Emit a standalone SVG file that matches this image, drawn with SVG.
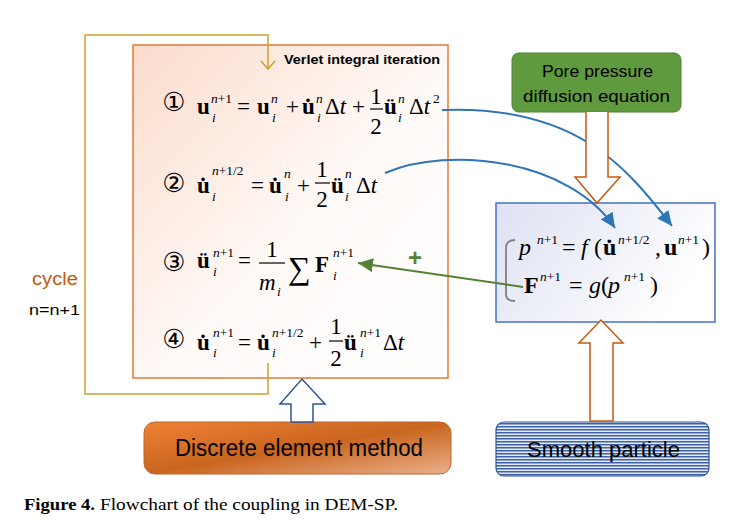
<svg xmlns="http://www.w3.org/2000/svg" width="745" height="527" viewBox="0 0 745 527">
<defs>
<style>
.m{font-family:"Liberation Serif","Times New Roman",serif;font-size:23px;fill:#000}
.b{font-weight:bold}
.it{font-style:italic}
.s{font-size:13.5px}
.l{font-size:24px}
.sig{font-size:32px}
.cd{font-family:"DejaVu Sans",sans-serif;font-size:26px;fill:#000;text-anchor:middle}
.sans{font-family:"Liberation Sans",Arial,sans-serif;fill:#000}
.bar{stroke:#000;stroke-width:1.2}
.blue{fill:none;stroke:#2e75b6;stroke-width:2}
</style>
<linearGradient id="gOrangeBox" x1="0" y1="0" x2="1" y2="1">
<stop offset="0" stop-color="#fbdccb"/><stop offset="0.55" stop-color="#fffaf8"/><stop offset="1" stop-color="#ffffff"/>
</linearGradient>
<linearGradient id="gSP" x1="0" y1="0" x2="1" y2="0.4">
<stop offset="0" stop-color="#dde1f2"/><stop offset="1" stop-color="#ffffff"/>
</linearGradient>
<linearGradient id="gDEM" x1="0" y1="0" x2="1" y2="1">
<stop offset="0" stop-color="#ef8236"/><stop offset="0.5" stop-color="#c9651f"/><stop offset="1" stop-color="#eab08a"/>
</linearGradient>
<pattern id="stripes" width="6" height="3" patternUnits="userSpaceOnUse">
<rect width="6" height="3" fill="#e4e9f6"/><rect width="6" height="1.5" fill="#3e62ad"/>
</pattern>
<marker id="ahBlue" markerUnits="userSpaceOnUse" markerWidth="16" markerHeight="14" refX="15" refY="7" orient="auto">
<path d="M0,0 L15,7 L0,14 z" fill="#2e75b6"/>
</marker>
<marker id="ahGreen" markerUnits="userSpaceOnUse" markerWidth="16" markerHeight="14" refX="15" refY="7" orient="auto">
<path d="M0,0 L15,7 L0,14 z" fill="#548235"/>
</marker>
</defs>
<rect width="745" height="527" fill="#ffffff"/>

<g id="verlet-box">
<rect x="133" y="45" width="315" height="333" fill="url(#gOrangeBox)" stroke="#e07b39" stroke-width="1.5"/>
<text class="sans" x="284" y="64" font-size="13.5" font-weight="bold" textLength="156" lengthAdjust="spacingAndGlyphs">Verlet integral iteration</text>
</g>

<g id="eq1">
<text class="cd" x="174" y="111">①</text>
<text class="m b" x="197" y="114">u</text>
<text class="m s" x="211" y="103"><tspan class="it">n</tspan>+1</text>
<text class="m s it" x="212" y="122">i</text>
<text class="m" x="237" y="114">=</text>
<text class="m b" x="257" y="114">u</text>
<text class="m s it" x="271" y="103">n</text>
<text class="m s it" x="272" y="122">i</text>
<text class="m" x="286" y="114">+</text>
<text class="m b" x="302" y="114">u̇</text>
<text class="m s it" x="316" y="103">n</text>
<text class="m s it" x="317" y="122">i</text>
<text class="m" x="325" y="114">Δ<tspan class="it">t</tspan></text>
<text class="m" x="352" y="114">+</text>
<text class="m" x="376" y="104" text-anchor="middle">1</text>
<line class="bar" x1="370" y1="109" x2="383" y2="109"/>
<text class="m" x="376" y="134" text-anchor="middle">2</text>
<text class="m b" x="384" y="114">ü</text>
<text class="m s it" x="398" y="103">n</text>
<text class="m s it" x="398" y="122">i</text>
<text class="m" x="409" y="114">Δ<tspan class="it">t</tspan></text>
<text class="m s" x="433" y="103">2</text>
</g>

<g id="eq2">
<text class="cd" x="174" y="192">②</text>
<text class="m b" x="197" y="193">u̇</text>
<text class="m s" x="212" y="175"><tspan class="it">n</tspan>+1/2</text>
<text class="m s it" x="212" y="201">i</text>
<text class="m" x="251" y="193">=</text>
<text class="m b" x="269" y="193">u̇</text>
<text class="m s it" x="284" y="178">n</text>
<text class="m s it" x="285" y="201">i</text>
<text class="m" x="297" y="193">+</text>
<text class="m" x="322" y="177" text-anchor="middle">1</text>
<line class="bar" x1="315" y1="183" x2="330" y2="183"/>
<text class="m" x="322" y="207" text-anchor="middle">2</text>
<text class="m b" x="331" y="193">ü</text>
<text class="m s it" x="345" y="178">n</text>
<text class="m s it" x="345" y="201">i</text>
<text class="m" x="356" y="193">Δ<tspan class="it">t</tspan></text>
</g>

<g id="eq3">
<text class="cd" x="174" y="271">③</text>
<text class="m b" x="197" y="268">ü</text>
<text class="m s" x="213" y="257"><tspan class="it">n</tspan>+1</text>
<text class="m s it" x="213" y="276">i</text>
<text class="m" x="238" y="268">=</text>
<text class="m" x="272" y="257" text-anchor="middle">1</text>
<line class="bar" x1="259" y1="263" x2="285" y2="263"/>
<text class="m it" x="259" y="290">m</text>
<text class="m s it" x="277" y="296">i</text>
<text class="m sig" x="288" y="279">∑</text>
<text class="m b" x="315" y="272">F</text>
<text class="m s" x="333" y="257"><tspan class="it">n</tspan>+1</text>
<text class="m s it" x="333" y="280">i</text>
</g>

<g id="eq4">
<text class="cd" x="174" y="348">④</text>
<text class="m b" x="197" y="350">u̇</text>
<text class="m s" x="213" y="337"><tspan class="it">n</tspan>+1</text>
<text class="m s it" x="213" y="357">i</text>
<text class="m" x="238" y="350">=</text>
<text class="m b" x="257" y="350">u̇</text>
<text class="m s" x="272" y="337"><tspan class="it">n</tspan>+1/2</text>
<text class="m s it" x="272" y="357">i</text>
<text class="m" x="309" y="350">+</text>
<text class="m" x="336" y="334" text-anchor="middle">1</text>
<line class="bar" x1="329" y1="341" x2="343" y2="341"/>
<text class="m" x="336" y="366" text-anchor="middle">2</text>
<text class="m b" x="344" y="350">ü</text>
<text class="m s" x="360" y="337"><tspan class="it">n</tspan>+1</text>
<text class="m s it" x="360" y="357">i</text>
<text class="m" x="383" y="350">Δ<tspan class="it">t</tspan></text>
</g>

<g id="cycle-label">
<text x="32" y="285" font-family="Liberation Sans, Arial, sans-serif" font-size="18" fill="#c55a11" textLength="46" lengthAdjust="spacingAndGlyphs">cycle</text>
<text class="sans" x="29" y="315" font-size="15" textLength="51" lengthAdjust="spacingAndGlyphs">n=n+1</text>
</g>

<g id="pore-pressure">
<rect x="512" y="53" width="169" height="59" rx="7" fill="#609a3e" stroke="#4e7f32" stroke-width="1"/>
<text class="sans" x="542" y="77" font-size="16.5" textLength="111" lengthAdjust="spacingAndGlyphs">Pore pressure</text>
<text class="sans" x="523" y="102" font-size="16.5" textLength="147" lengthAdjust="spacingAndGlyphs">diffusion equation</text>
</g>

<g id="sp-equations">
<rect x="496" y="203" width="219" height="119" fill="url(#gSP)" stroke="#4472c4" stroke-width="1.5"/>
<path d="M515,240 Q506,240 506,248 V294 Q506,301 515,301" fill="none" stroke="#7f7f7f" stroke-width="1.8"/>
<text class="m l it" x="519" y="255">p</text>
<text class="m s" x="537" y="244"><tspan class="it">n</tspan>+1</text>
<text class="m l" x="562" y="255">=</text>
<text class="m l it" x="581" y="255">f</text>
<text class="m l" x="594" y="255">(</text>
<text class="m l b" x="603" y="255">u̇</text>
<text class="m s" x="618" y="244"><tspan class="it">n</tspan>+1/2</text>
<text class="m l" x="655" y="255">,</text>
<text class="m l b" x="664" y="255">u</text>
<text class="m s" x="678" y="244"><tspan class="it">n</tspan>+1</text>
<text class="m l" x="702" y="255">)</text>
<text class="m l b" x="524" y="293">F</text>
<text class="m s" x="540" y="281"><tspan class="it">n</tspan>+1</text>
<text class="m l" x="569" y="293">=</text>
<text class="m l it" x="589" y="293">g</text>
<text class="m l" x="601" y="293">(</text>
<text class="m l it" x="608" y="293">p</text>
<text class="m s" x="624" y="281"><tspan class="it">n</tspan>+1</text>
<text class="m l" x="650" y="293">)</text>
</g>

<g id="dem">
<rect x="144" y="422" width="307" height="52" rx="11" fill="url(#gDEM)" stroke="#c0652a" stroke-width="1"/>
<text class="sans" x="175" y="456" font-size="23" textLength="248" lengthAdjust="spacingAndGlyphs">Discrete element method</text>
</g>

<g id="smooth-particle">
<rect x="496" y="422" width="213" height="54" rx="8" fill="url(#stripes)" stroke="#2f5597" stroke-width="1.2"/>
<text class="sans" x="527" y="457" font-size="22" textLength="153" lengthAdjust="spacingAndGlyphs">Smooth particle</text>
</g>

<g id="connectors">
<path d="M268,363 V394 H85 V35 H268 V68" fill="none" stroke="#c9a22c" stroke-width="1.5"/>
<path d="M261,61 L268,69 L275,61" fill="none" stroke="#c9a22c" stroke-width="1.5"/>
<path class="blue" d="M442,110 C575,105 625,165 672,226" marker-end="url(#ahBlue)"/>
<path class="blue" d="M385,173 C450,145 570,160 615,228" marker-end="url(#ahBlue)"/>
<line x1="523" y1="287" x2="358" y2="263" stroke="#548235" stroke-width="2" marker-end="url(#ahGreen)"/>
<text x="415" y="266" font-family="Liberation Sans, Arial, sans-serif" font-size="24" font-weight="bold" fill="#548235" text-anchor="middle">+</text>
<path d="M586,112 V177 H575 L597,203 L620,177 H608 V112" fill="#ffffff" stroke="#c55a11" stroke-width="1.5"/>
<path d="M590,421 V343 H579 L601,320 L623,343 H613 V421 Z" fill="#ffffff" stroke="#c55a11" stroke-width="1.5"/>
<path d="M291,422 V404 H280 L302,379 L325,404 H313 V422 Z" fill="#ffffff" stroke="#2f5597" stroke-width="1.5"/>
</g>

<g id="caption">
<text x="24" y="510" font-family="Liberation Serif, 'Times New Roman', serif" font-size="16"><tspan font-weight="bold" textLength="71" lengthAdjust="spacingAndGlyphs">Figure 4.</tspan><tspan x="100" textLength="298" lengthAdjust="spacingAndGlyphs">Flowchart of the coupling in DEM-SP.</tspan></text>
</g>
</svg>
